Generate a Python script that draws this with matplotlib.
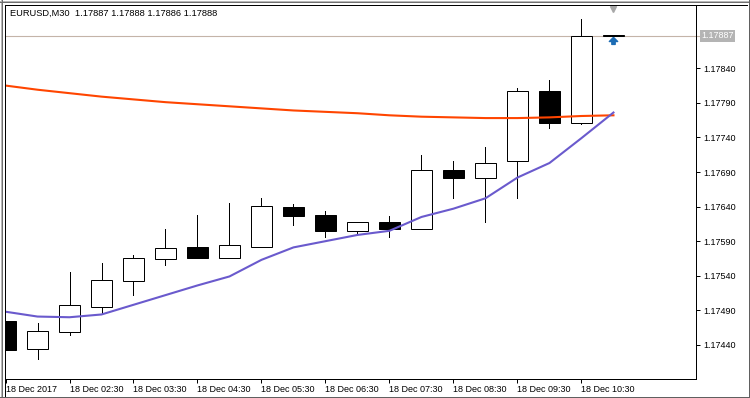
from matplotlib import pyplot as plt
from matplotlib.lines import Line2D
from matplotlib.patches import Rectangle
from matplotlib.path import Path
from matplotlib.transforms import blended_transform_factory

simbolo = 'EURUSD,M30  1.17887 1.17888 1.17886 1.17888'
etiquetas_x = ['18 Dec 2017', '18 Dec 02:30', '18 Dec 03:30', '18 Dec 04:30',
               '18 Dec 05:30', '18 Dec 06:30', '18 Dec 07:30', '18 Dec 08:30',
               '18 Dec 09:30', '18 Dec 10:30']
precio_actual = 1.17887
niveles_y = [1.17440, 1.17490, 1.17540, 1.17590, 1.17640, 1.17690, 1.17740,
             1.17790, 1.17840]

apertura = [1.17475, 1.17434, 1.17458, 1.17495, 1.17533, 1.17564, 1.17582,
            1.17565, 1.17581, 1.17639, 1.17628, 1.17604, 1.17618, 1.17608,
            1.17693, 1.17682, 1.17706, 1.17807, 1.17761, 1.17887]
maximo = [1.17475, 1.17472, 1.17545, 1.17559, 1.17570, 1.17608, 1.17628,
          1.17645, 1.17653, 1.17644, 1.17633, 1.17617, 1.17626, 1.17715,
          1.17706, 1.17726, 1.17811, 1.17823, 1.17911, 1.17888]
minimo = [1.17433, 1.17420, 1.17455, 1.17486, 1.17512, 1.17556, 1.17565,
          1.17565, 1.17581, 1.17614, 1.17596, 1.17602, 1.17596, 1.17607,
          1.17653, 1.17617, 1.17653, 1.17753, 1.17760, 1.17886]
cierre = [1.17433, 1.17460, 1.17497, 1.17534, 1.17565, 1.17580, 1.17565,
          1.17584, 1.17641, 1.17627, 1.17604, 1.17617, 1.17607, 1.17693,
          1.17682, 1.17703, 1.17807, 1.17761, 1.17887, 1.17888]

ma_lenta = [1.17815, 1.17809, 1.17804, 1.17799, 1.17795, 1.17791, 1.17788,
            1.17785, 1.17782, 1.17779, 1.17777, 1.17775, 1.17772, 1.17770,
            1.17769, 1.17768, 1.17768, 1.17769, 1.17771, 1.17772]
ma_rapida = [1.17488, 1.17481, 1.17480, 1.17484, 1.17498, 1.17512, 1.17526,
             1.17539, 1.17563, 1.17581, 1.17590, 1.17599, 1.17605, 1.17625,
             1.17637, 1.17652, 1.17682, 1.17703, 1.17739, 1.17776]

W, H = 750, 398
FUENTE = ['Liberation Sans', 'DejaVu Sans']


def marco_ventana(fig):
    # bordes de la ventana estilo MT4
    def linea(x0, y0, x1, y1, color, lw=1.0):
        fig.add_artist(Line2D([x0 / W, x1 / W], [1 - y0 / H, 1 - y1 / H],
                              color=color, lw=lw * 0.72,
                              transform=fig.transFigure))
    linea(0, 0.5, W, 0.5, '#b8b8b8')
    linea(0.5, 0, 0.5, H, '#b8b8b8')
    linea(0, 1.8, W, 1.8, '#707070')
    linea(1.8, 0, 1.8, H, '#707070')
    linea(0, 396.8, W, 396.8, '#606060')
    linea(749.2, 0, 749.2, H, '#606060')
    linea(4.5, 4.5, 747, 4.5, 'black')
    linea(4.5, 4.5, 4.5, 396, 'black')


def velas(ax):
    ancho = 0.656
    for i in range(len(apertura)):
        o, h, l, c = apertura[i], maximo[i], minimo[i], cierre[i]
        arriba, abajo = max(o, c), min(o, c)
        ax.plot([i, i], [arriba, h], color='black', lw=0.72, zorder=3)
        ax.plot([i, i], [l, abajo], color='black', lw=0.72, zorder=3)
        relleno = 'white' if c >= o else 'black'
        ax.add_patch(Rectangle((i - ancho / 2, abajo), ancho,
                               max(arriba - abajo, 0.000002),
                               facecolor=relleno, edgecolor='black',
                               lw=0.72, zorder=4))


def main():
    fig = plt.figure(figsize=(W / 100, H / 100), dpi=100)
    fig.patch.set_facecolor('white')
    ax = fig.add_axes([5 / W, (H - 379) / H, 691 / W, 374 / H])
    ax.set_facecolor('white')

    x = list(range(len(apertura)))
    ax.set_xlim(-0.016, 21.58)
    ax.set_ylim(1.173907, 1.179315)

    # linea del precio bid
    ax.plot([-0.016, 21.68], [precio_actual, precio_actual], color='#c4b4a8',
            lw=0.8, zorder=1, clip_on=False)

    ax.plot(x, ma_lenta, color='#ff4500', lw=1.5, zorder=5)
    ax.plot(x, ma_rapida, color='#6a5acd', lw=1.5, zorder=5)
    velas(ax)

    ultimo = len(apertura) - 1
    flecha = Path([(0, 1), (1, 0), (0.4, 0), (0.4, -0.7), (-0.4, -0.7),
                   (-0.4, 0), (-1, 0), (0, 1)])
    ax.plot([ultimo], [precio_actual - 0.00007], marker=flecha, ms=6,
            color='#1c6cb4', zorder=6)
    trans = blended_transform_factory(ax.transData, ax.transAxes)
    ax.plot([ultimo], [0.988], marker='v', ms=5, color='#a8a8a8',
            transform=trans, clip_on=False, zorder=6)

    ax.text(5 / 691, 1 - 8 / 374, simbolo, transform=ax.transAxes,
            fontsize=6.7, family=FUENTE, ha='left', va='center')

    ax.set_xticks(x[0:19:2])
    ax.set_xticklabels(etiquetas_x, family=FUENTE, fontsize=6.5, ha='left')
    ax.yaxis.tick_right()
    ax.set_yticks(niveles_y)
    ax.set_yticklabels([f'{v:.5f}' for v in niveles_y], family=FUENTE,
                       fontsize=6.5)
    ax.tick_params(axis='x', direction='out', length=3, width=0.72, pad=1.5)
    ax.tick_params(axis='y', direction='out', length=3, width=0.72, pad=2)
    for s in ax.spines.values():
        s.set_color('black')
        s.set_linewidth(0.72)

    # etiqueta del precio actual a la derecha
    ax.text(1 + 5 / 691, precio_actual, f'{precio_actual:.5f}',
            transform=ax.get_yaxis_transform(), fontsize=6.5, family=FUENTE,
            color='white', ha='left', va='center',
            bbox=dict(boxstyle='square,pad=0.15', facecolor='#b4b4b4',
                      edgecolor='none'))

    marco_ventana(fig)
    fig.savefig('out.png', dpi=100, facecolor=fig.get_facecolor())


if __name__ == '__main__':
    main()
